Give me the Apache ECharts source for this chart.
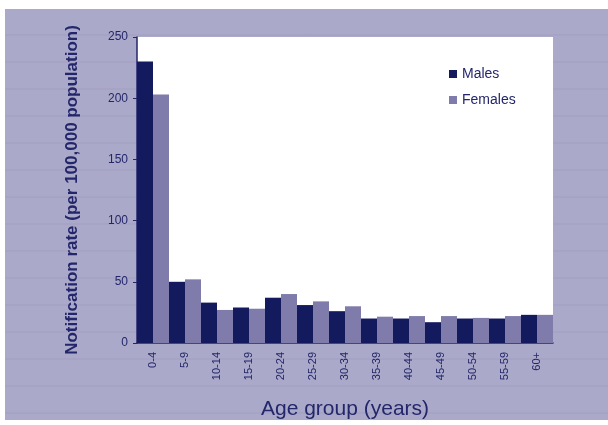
<!DOCTYPE html>
<html>
<head>
<meta charset="utf-8">
<script src="https://cdn.jsdelivr.net/npm/echarts@6/dist/echarts.min.js"></script>
<style>
html,body{margin:0;padding:0;background:#fff;}
#c{width:608px;height:425px;}
</style>
</head>
<body>
<div id="c"></div>
<script>
const categories = ['0-4','5-9','10-14','15-19','20-24','25-29','30-34','35-39','40-44','45-49','50-54','55-59','60+'];
const males   = [230, 50, 33, 29, 37, 31, 26, 20, 20, 17, 20, 20, 23];
const females = [203, 52, 27, 28, 40, 34, 30, 21.5, 22, 22, 20.5, 22, 23];
const yTicks = [0, 50, 100, 150, 200, 250];

const chart = echarts.init(document.getElementById('c'));
const stripes = [];
[35, 62, 89, 116, 143, 170, 197, 224, 251, 278, 305, 332, 359, 386, 413].forEach(function (y) {
  stripes.push({type:'line', z:-9, shape:{x1:5, y1:y, x2:608, y2:y}, style:{stroke:'rgba(120,118,160,0.18)', lineWidth:1}});
});
chart.setOption({
  animation: false,
  backgroundColor: '#ffffff',
  textStyle: {fontFamily: 'Liberation Sans, Arial, sans-serif'},
  graphic: [{type:'rect', z:-10, shape:{x:5, y:9, width:603, height:411}, style:{fill:'#aba9c9'}}].concat(stripes),
  grid: {left:137, right:55, top:37, bottom:82, show:true, backgroundColor:'#ffffff', borderWidth:0},
  legend: {
    top: 62, left: 444, orient: 'vertical', itemGap: 12,
    itemWidth: 8, itemHeight: 8, icon: 'rect',
    textStyle: {color:'#23266a', fontSize: 14}
  },
  xAxis: {
    type: 'category', data: categories,
    name: 'Age group (years)', nameLocation: 'middle', nameGap: 66,
    nameTextStyle: {color:'#23266a', fontSize: 21, verticalAlign: 'middle'},
    axisLine: {lineStyle: {color:'#23266a', width: 1.5}},
    axisTick: {show: false},
    axisLabel: {rotate: 90, color:'#23266a', fontSize: 11, margin: 9}
  },
  yAxis: {
    type: 'value', min: 0, max: 250, interval: 50,
    name: 'Notification rate (per 100,000 population)', nameLocation: 'middle', nameGap: 56,
    nameTextStyle: {color:'#23266a', fontSize: 17, fontWeight: 'bold'},
    axisLine: {show: true, lineStyle: {color:'#23266a', width: 1.5}},
    axisTick: {show: true, length: 4, lineStyle: {color:'#23266a'}},
    splitLine: {show: false},
    axisLabel: {color:'#23266a', fontSize: 12, margin: 9,
      formatter: function (v) { return yTicks.indexOf(v) >= 0 ? String(v) : ''; }}
  },
  series: [
    {name:'Males', type:'bar', data: males, barGap: '0%', barCategoryGap: '0%', itemStyle:{color:'#141a5e'}},
    {name:'Females', type:'bar', data: females, barGap: '0%', barCategoryGap: '0%', itemStyle:{color:'#7f7baa'}}
  ]
});
</script>
</body>
</html>
